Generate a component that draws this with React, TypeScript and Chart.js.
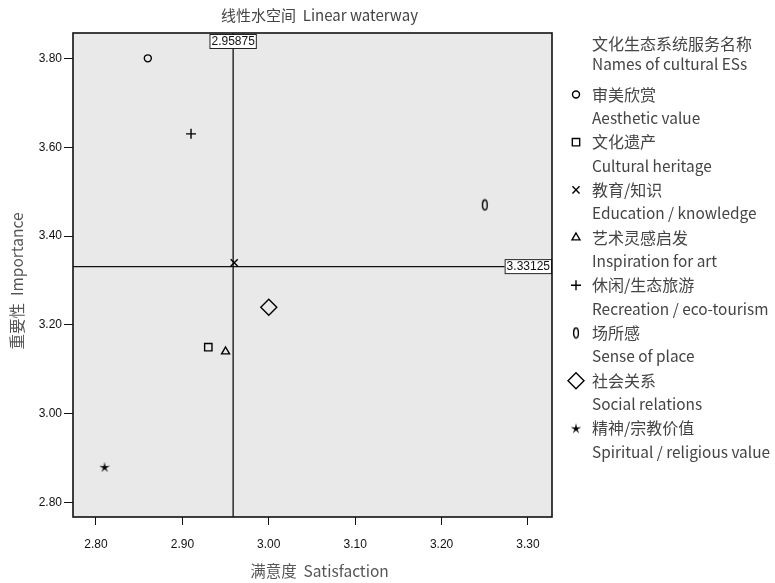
import React, { useEffect, useRef } from "react";
import { Chart, registerables } from "chart.js";
import { drawPoint } from "chart.js/helpers";

Chart.register(...registerables);

const titleText = "线性水空间  Linear waterway";
const xTitle = "满意度  Satisfaction";
const yTitle = "重要性  Importance";
const legendHeaderZh = "文化生态系统服务名称";
const legendHeaderEn = "Names of cultural ESs";

const categoriesZh = ["审美欣赏", "文化遗产", "教育/知识", "艺术灵感启发", "休闲/生态旅游", "场所感", "社会关系", "精神/宗教价值"];
const categoriesEn = [
  "Aesthetic value",
  "Cultural heritage",
  "Education / knowledge",
  "Inspiration for art",
  "Recreation / eco-tourism",
  "Sense of place",
  "Social relations",
  "Spiritual / religious value",
];
const satisfaction = [2.86, 2.93, 2.96, 2.95, 2.91, 3.25, 3.0, 2.81];
const importance = [3.8, 3.15, 3.34, 3.14, 3.63, 3.47, 3.24, 2.88];
const xTicks = [2.8, 2.9, 3.0, 3.1, 3.2, 3.3];
const yTicks = [2.8, 3.0, 3.2, 3.4, 3.6, 3.8];
const meanSatisfaction = 2.95875;
const meanImportance = 3.33125;

const CJK = "'Noto Sans CJK SC', 'Noto Sans', sans-serif";
const NUM = "'Liberation Sans', Arial, sans-serif";

function makeZero(): HTMLCanvasElement {
  const c = document.createElement("canvas");
  c.width = 8;
  c.height = 13;
  const g = c.getContext("2d")!;
  g.strokeStyle = "#000";
  g.lineWidth = 1.4;
  g.beginPath();
  g.ellipse(4, 6.5, 2.4, 5, 0, 0, Math.PI * 2);
  g.stroke();
  return c;
}

function makeStar(): HTMLCanvasElement {
  const c = document.createElement("canvas");
  c.width = 12;
  c.height = 12;
  const g = c.getContext("2d")!;
  g.fillStyle = "#000";
  g.beginPath();
  for (let i = 0; i < 10; i++) {
    const r = i % 2 === 0 ? 5.6 : 1.6;
    const a = -Math.PI / 2 + (i * Math.PI) / 5;
    const px = 6 + r * Math.cos(a);
    const py = 6.4 + r * Math.sin(a);
    if (i === 0) g.moveTo(px, py);
    else g.lineTo(px, py);
  }
  g.closePath();
  g.fill();
  return c;
}

export default function App() {
  const ref = useRef<HTMLCanvasElement>(null);
  useEffect(() => {
    const zero = makeZero();
    const star = makeStar();
    const styles: any[] = ["circle", "rect", "crossRot", "triangle", "cross", zero, "rectRot", star];
    const radii = [3.5, 5.2, 5, 4.6, 5, 6, 8, 6];

    const drawBox = (ctx: CanvasRenderingContext2D, text: string, left: number, top: number) => {
      ctx.font = `12px ${NUM}`;
      const w = ctx.measureText(text).width + 4;
      const h = 15;
      ctx.fillStyle = "#fff";
      ctx.fillRect(left, top, w, h);
      ctx.strokeStyle = "#222";
      ctx.lineWidth = 1;
      ctx.strokeRect(left + 0.5, top + 0.5, w - 1, h - 1);
      ctx.fillStyle = "#111";
      ctx.textAlign = "left";
      ctx.textBaseline = "middle";
      ctx.fillText(text, left + 2, top + h / 2 + 0.5);
      return w;
    };

    const plugin = {
      id: "spssDecor",
      beforeDatasetsDraw(chart: any) {
        const { ctx, chartArea: a, scales } = chart;
        ctx.save();
        ctx.fillStyle = "#e9e9e9";
        ctx.fillRect(a.left, a.top, a.right - a.left, a.bottom - a.top);
        const vx = scales.x.getPixelForValue(meanSatisfaction);
        const hy = scales.y.getPixelForValue(meanImportance);
        ctx.strokeStyle = "#111";
        ctx.lineWidth = 1.3;
        ctx.beginPath();
        ctx.moveTo(vx, a.top);
        ctx.lineTo(vx, a.bottom);
        ctx.moveTo(a.left, hy);
        ctx.lineTo(a.right, hy);
        ctx.stroke();
        ctx.restore();
      },
      afterDatasetsDraw(chart: any) {
        const { ctx, chartArea: a, scales } = chart;
        ctx.save();
        const vx = scales.x.getPixelForValue(meanSatisfaction);
        const hy = scales.y.getPixelForValue(meanImportance);
        const t1 = meanSatisfaction.toFixed(5);
        ctx.font = `12px ${NUM}`;
        const w1 = ctx.measureText(t1).width + 4;
        drawBox(ctx, t1, vx - w1 / 2, a.top + 1);
        const t2 = meanImportance.toFixed(5);
        const w2 = ctx.measureText(t2).width + 4;
        drawBox(ctx, t2, a.right - w2, hy - 7.5);

        // frame
        ctx.strokeStyle = "#111";
        ctx.lineWidth = 1.6;
        ctx.strokeRect(a.left, a.top, a.right - a.left, a.bottom - a.top);

        // title
        const cx = (a.left + a.right) / 2 + 7;
        ctx.fillStyle = "#444";
        ctx.font = `15px ${CJK}`;
        ctx.textAlign = "center";
        ctx.textBaseline = "middle";
        ctx.fillText(titleText, cx, 15);

        // axis titles
        ctx.fillStyle = "#555";
        ctx.font = `15.5px ${CJK}`;
        ctx.fillText(xTitle, cx, 571);
        ctx.save();
        ctx.translate(17, 281);
        ctx.rotate(-Math.PI / 2);
        ctx.fillText(yTitle, 0, 0);
        ctx.restore();

        // legend
        const tx = 592;
        ctx.textAlign = "left";
        ctx.fillStyle = "#444";
        ctx.font = `16px ${CJK}`;
        ctx.fillText(legendHeaderZh, tx, 44);
        ctx.font = `15.4px ${CJK}`;
        ctx.fillText(legendHeaderEn, tx, 64);
        for (let i = 0; i < categoriesZh.length; i++) {
          const yz = 94.5 + 47.7 * i;
          ctx.fillStyle = "#444";
          ctx.font = `16px ${CJK}`;
          ctx.fillText(categoriesZh[i], tx, yz);
          ctx.font = `15.4px ${CJK}`;
          ctx.fillText(categoriesEn[i], tx, yz + 23.5);
          ctx.strokeStyle = "#000";
          ctx.fillStyle = "rgba(0,0,0,0)";
          ctx.lineWidth = 1.4;
          drawPoint(ctx, { pointStyle: styles[i], radius: radii[i], rotation: 0, borderWidth: 1.4 } as any, 576, yz);
        }
        ctx.restore();
      },
    };

    const chart = new Chart(ref.current!, {
      type: "scatter",
      data: {
        datasets: [
          {
            data: satisfaction.map((x, i) => ({ x, y: importance[i] })),
            pointStyle: styles,
            pointRadius: radii,
            pointHoverRadius: radii,
            pointBorderColor: "#000",
            pointBackgroundColor: "rgba(0,0,0,0)",
            pointBorderWidth: 1.4,
          } as any,
        ],
      },
      options: {
        responsive: false,
        animation: false,
        events: [],
        layout: { padding: { left: 0, right: 223, top: 33, bottom: 0 } },
        plugins: { legend: { display: false }, tooltip: { enabled: false }, title: { display: false } },
        scales: {
          x: {
            type: "linear",
            min: 2.7734,
            max: 3.3278,
            afterBuildTicks: (s: any) => {
              s.ticks = xTicks.map((v) => ({ value: v }));
            },
            afterFit: (s: any) => {
              s.height = 66;
            },
            grid: { drawOnChartArea: false, drawTicks: true, tickLength: 8, color: "#111", lineWidth: 1 },
            border: { display: false },
            ticks: {
              padding: 12,
              color: "#111",
              font: { family: NUM, size: 12 },
              maxRotation: 0,
              autoSkip: false,
              callback: (v: any) => Number(v).toFixed(2),
            },
            title: { display: false },
          },
          y: {
            type: "linear",
            min: 2.7678,
            max: 3.857,
            afterBuildTicks: (s: any) => {
              s.ticks = yTicks.map((v) => ({ value: v }));
            },
            afterFit: (s: any) => {
              s.width = 73;
            },
            grid: { drawOnChartArea: false, drawTicks: true, tickLength: 9, color: "#111", lineWidth: 1 },
            border: { display: false },
            ticks: {
              padding: 2,
              color: "#111",
              font: { family: NUM, size: 12 },
              autoSkip: false,
              callback: (v: any) => Number(v).toFixed(2),
            },
            title: { display: false },
          },
        },
      },
      plugins: [plugin],
    });
    return () => chart.destroy();
  }, []);
  return (
    <div style={{ position: "fixed", left: 0, top: 0, width: 775, height: 583 }}>
      <canvas ref={ref} width={775} height={583} style={{ display: "block" }} />
    </div>
  );
}
